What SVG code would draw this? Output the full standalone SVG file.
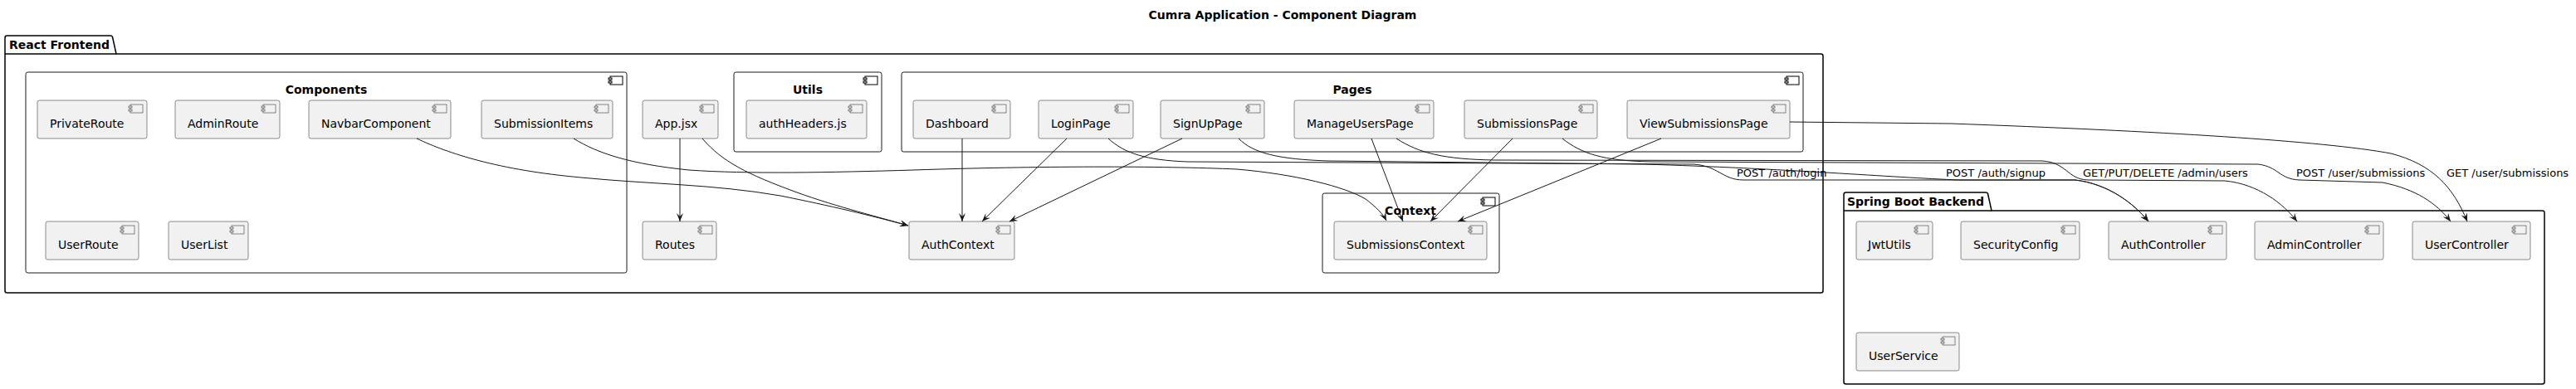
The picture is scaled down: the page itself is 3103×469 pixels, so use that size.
<svg xmlns="http://www.w3.org/2000/svg" xmlns:xlink="http://www.w3.org/1999/xlink" width="3103" height="469" viewBox="0 0 3103 469">
<style>
text{font-family:"DejaVu Sans","Liberation Sans",sans-serif;fill:#000}
.t{font-size:14px}
.b{font-size:14px;font-weight:bold}
.lbl{font-size:13px}
.box{fill:#F1F1F1;stroke:#181818;stroke-width:0.5}
.cont{fill:none;stroke:#181818;stroke-width:1}
.pkg{fill:none;stroke:#000;stroke-width:1.5}
.ic{fill:#F1F1F1;stroke:#181818;stroke-width:0.5}
.cic{fill:#fff;stroke:#000;stroke-width:1}
.edge{fill:none;stroke:#181818;stroke-width:1}
</style>
<defs>
<g id="ic" class="ic"><rect x="-20" y="5" width="15" height="10"/><rect x="-22" y="7" width="4" height="2"/><rect x="-22" y="11" width="4" height="2"/></g>
<g id="cic" class="cic"><rect x="-20" y="5" width="15" height="10"/><rect x="-22" y="7" width="4" height="2"/><rect x="-22" y="11" width="4" height="2"/></g>
<marker id="ah" viewBox="0 0 10 8" refX="10" refY="4" markerWidth="10" markerHeight="8" markerUnits="userSpaceOnUse" orient="auto"><path d="M0,0 L10,4 L0,8 L4,4 Z" fill="#181818"/></marker>
</defs>
<rect width="3103" height="469" fill="#fff"/>
<text class="b" x="1545" y="23" text-anchor="middle">Cumra Application - Component Diagram</text>

<g id="pkg-frontend">
<path class="pkg" d="M8.5,43 L133,43 Q135,43 135.5,44.5 L140,65 L2193.5,65 Q2196,65 2196,67.5 L2196,350.5 Q2196,353 2193.5,353 L8.5,353 Q6,353 6,350.5 L6,45.5 Q6,43 8.5,43 Z"/>
<line class="pkg" x1="6" y1="65" x2="140" y2="65"/>
<text class="b" x="11" y="59">React Frontend</text>
</g>
<g id="pkg-backend">
<path class="pkg" d="M2223.5,232 L2392,232 Q2394,232 2394.5,233.5 L2399,254 L3062.5,254 Q3065,254 3065,256.5 L3065,460.5 Q3065,463 3062.5,463 L2223.5,463 Q2221,463 2221,460.5 L2221,234.5 Q2221,232 2223.5,232 Z"/>
<line class="pkg" x1="2221" y1="254" x2="2399" y2="254"/>
<text class="b" x="2225" y="248">Spring Boot Backend</text>
</g>

<g id="components">
<rect class="cont" x="31" y="87" width="724" height="242" rx="2.5"/>
<use xlink:href="#cic" x="755" y="87"/>
<text class="b" x="393" y="113" text-anchor="middle">Components</text>
</g>
<g id="utils">
<rect class="cont" x="884" y="87" width="178" height="96" rx="2.5"/>
<use xlink:href="#cic" x="1062" y="87"/>
<text class="b" x="973" y="113" text-anchor="middle">Utils</text>
</g>
<g id="pages">
<rect class="cont" x="1086" y="87" width="1086" height="96" rx="2.5"/>
<use xlink:href="#cic" x="2172" y="87"/>
<text class="b" x="1629" y="113" text-anchor="middle">Pages</text>
</g>
<g id="context">
<rect class="cont" x="1593" y="233" width="213" height="96" rx="2.5"/>
<use xlink:href="#cic" x="1806" y="233"/>
<text class="b" x="1699" y="259" text-anchor="middle">Context</text>
</g>

<g id="PrivateRoute"><rect class="box" x="45" y="121" width="132" height="46" rx="2.5"/><use xlink:href="#ic" x="177" y="121"/><text class="t" x="60" y="154">PrivateRoute</text></g>
<g id="AdminRoute"><rect class="box" x="211" y="121" width="126" height="46" rx="2.5"/><use xlink:href="#ic" x="337" y="121"/><text class="t" x="226" y="154">AdminRoute</text></g>
<g id="NavbarComponent"><rect class="box" x="372" y="121" width="171" height="46" rx="2.5"/><use xlink:href="#ic" x="543" y="121"/><text class="t" x="387" y="154">NavbarComponent</text></g>
<g id="SubmissionItems"><rect class="box" x="580" y="121" width="158" height="46" rx="2.5"/><use xlink:href="#ic" x="738" y="121"/><text class="t" x="595" y="154">SubmissionItems</text></g>
<g id="UserRoute"><rect class="box" x="55" y="267" width="112" height="46" rx="2.5"/><use xlink:href="#ic" x="167" y="267"/><text class="t" x="70" y="300">UserRoute</text></g>
<g id="UserList"><rect class="box" x="203" y="267" width="96" height="46" rx="2.5"/><use xlink:href="#ic" x="299" y="267"/><text class="t" x="218" y="300">UserList</text></g>
<g id="App"><rect class="box" x="774" y="121" width="91" height="46" rx="2.5"/><use xlink:href="#ic" x="865" y="121"/><text class="t" x="789" y="154">App.jsx</text></g>
<g id="Routes"><rect class="box" x="774" y="267" width="89" height="46" rx="2.5"/><use xlink:href="#ic" x="863" y="267"/><text class="t" x="789" y="300">Routes</text></g>
<g id="authHeaders"><rect class="box" x="899" y="121" width="145" height="46" rx="2.5"/><use xlink:href="#ic" x="1044" y="121"/><text class="t" x="914" y="154">authHeaders.js</text></g>
<g id="AuthContext"><rect class="box" x="1095" y="267" width="127" height="46" rx="2.5"/><use xlink:href="#ic" x="1222" y="267"/><text class="t" x="1110" y="300">AuthContext</text></g>
<g id="Dashboard"><rect class="box" x="1100" y="121" width="117" height="46" rx="2.5"/><use xlink:href="#ic" x="1217" y="121"/><text class="t" x="1115" y="154">Dashboard</text></g>
<g id="LoginPage"><rect class="box" x="1251" y="121" width="114" height="46" rx="2.5"/><use xlink:href="#ic" x="1365" y="121"/><text class="t" x="1266" y="154">LoginPage</text></g>
<g id="SignUpPage"><rect class="box" x="1398" y="121" width="125" height="46" rx="2.5"/><use xlink:href="#ic" x="1523" y="121"/><text class="t" x="1413" y="154">SignUpPage</text></g>
<g id="ManageUsersPage"><rect class="box" x="1559" y="121" width="168" height="46" rx="2.5"/><use xlink:href="#ic" x="1727" y="121"/><text class="t" x="1574" y="154">ManageUsersPage</text></g>
<g id="SubmissionsPage"><rect class="box" x="1764" y="121" width="160" height="46" rx="2.5"/><use xlink:href="#ic" x="1924" y="121"/><text class="t" x="1779" y="154">SubmissionsPage</text></g>
<g id="ViewSubmissionsPage"><rect class="box" x="1960" y="121" width="196" height="46" rx="2.5"/><use xlink:href="#ic" x="2156" y="121"/><text class="t" x="1975" y="154">ViewSubmissionsPage</text></g>
<g id="SubmissionsContext"><rect class="box" x="1607" y="267" width="184" height="46" rx="2.5"/><use xlink:href="#ic" x="1791" y="267"/><text class="t" x="1622" y="300">SubmissionsContext</text></g>
<g id="JwtUtils"><rect class="box" x="2236" y="267" width="92" height="46" rx="2.5"/><use xlink:href="#ic" x="2328" y="267"/><text class="t" x="2250" y="300">JwtUtils</text></g>
<g id="SecurityConfig"><rect class="box" x="2362" y="267" width="143" height="46" rx="2.5"/><use xlink:href="#ic" x="2505" y="267"/><text class="t" x="2377" y="300">SecurityConfig</text></g>
<g id="AuthController"><rect class="box" x="2540" y="267" width="142" height="46" rx="2.5"/><use xlink:href="#ic" x="2682" y="267"/><text class="t" x="2555" y="300">AuthController</text></g>
<g id="AdminController"><rect class="box" x="2716" y="267" width="155" height="46" rx="2.5"/><use xlink:href="#ic" x="2871" y="267"/><text class="t" x="2731" y="300">AdminController</text></g>
<g id="UserController"><rect class="box" x="2906" y="267" width="142" height="46" rx="2.5"/><use xlink:href="#ic" x="3048" y="267"/><text class="t" x="2921" y="300">UserController</text></g>
<g id="UserService"><rect class="box" x="2236" y="401" width="124" height="46" rx="2.5"/><use xlink:href="#ic" x="2360" y="401"/><text class="t" x="2251" y="434">UserService</text></g>

<g id="connectors">
<path class="edge" marker-end="url(#ah)" d="M502,167 C540,185 600,205 700,214 C780,222 860,222 940,236 C1000,248 1050,260 1094,272"/>
<path class="edge" marker-end="url(#ah)" d="M691,167 C720,185 760,198 830,205 C900,210 1000,208 1100,205 C1250,200 1400,200 1490,204 C1560,210 1620,225 1645,240 C1658,250 1666,258 1670,266"/>
<path class="edge" marker-end="url(#ah)" d="M819,167 L819,267"/>
<path class="edge" marker-end="url(#ah)" d="M846,167 C870,195 900,210 960,232 C1010,250 1060,262 1094,272"/>
<path class="edge" marker-end="url(#ah)" d="M1159,167 L1159,267"/>
<path class="edge" marker-end="url(#ah)" d="M1285,167 L1183,267"/>
<path class="edge" marker-end="url(#ah)" d="M1424,167 L1216,267"/>
<path class="edge" marker-end="url(#ah)" d="M1335,167 C1355,185 1380,193 1430,195 L2040,198 C2070,200 2075,217 2100,217 L2500,217 C2540,222 2570,245 2588,267"/>
<path class="edge" marker-end="url(#ah)" d="M1492,167 C1510,185 1540,192 1600,194 L1980,198 C2150,203 2280,214 2360,217 L2500,217 C2540,222 2570,245 2588,267"/>
<path class="edge" marker-end="url(#ah)" d="M1682,167 C1710,185 1740,192 1800,193 L2460,194 C2490,196 2490,216 2515,217 L2680,218 C2720,222 2750,245 2767,267"/>
<path class="edge" marker-end="url(#ah)" d="M1882,167 C1905,185 1930,194 1990,195 L2720,198 C2745,201 2745,216 2770,217 L2870,220 C2910,228 2935,245 2952,267"/>
<path class="edge" marker-end="url(#ah)" d="M2156,147 L2350,149 C2600,158 2800,170 2880,185 C2930,198 2955,225 2972,267"/>
<path class="edge" marker-end="url(#ah)" d="M1652,167 L1690,267"/>
<path class="edge" marker-end="url(#ah)" d="M1822,167 L1723,267"/>
<path class="edge" marker-end="url(#ah)" d="M2001,167 L1756,267"/>
<text class="lbl" x="2092" y="213">POST /auth/login</text>
<text class="lbl" x="2344" y="213">POST /auth/signup</text>
<text class="lbl" x="2509" y="213">GET/PUT/DELETE /admin/users</text>
<text class="lbl" x="2766" y="213">POST /user/submissions</text>
<text class="lbl" x="2947" y="213">GET /user/submissions</text>
</g>
</svg>
